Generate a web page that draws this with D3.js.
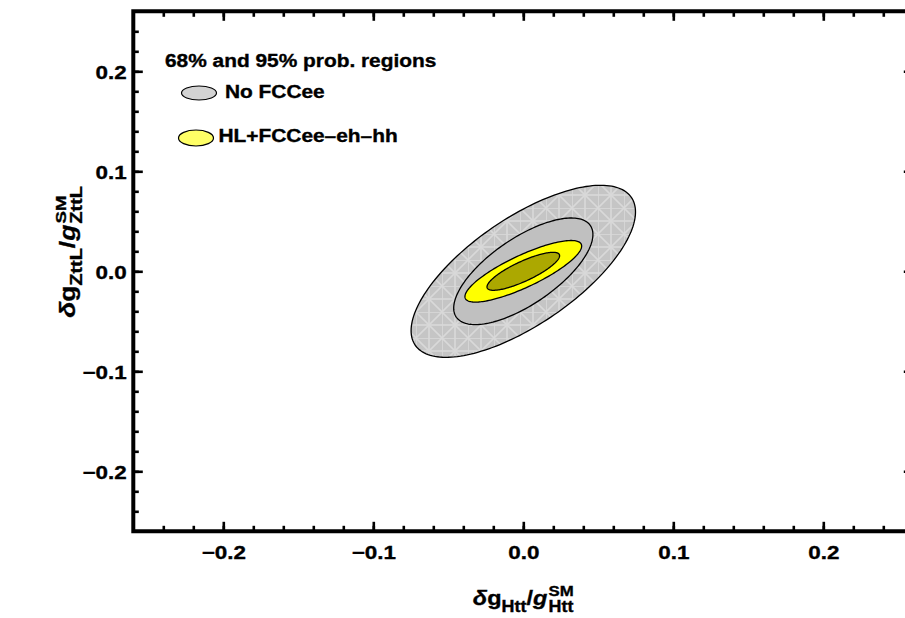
<!DOCTYPE html>
<html><head><meta charset="utf-8">
<script src="https://cdn.jsdelivr.net/npm/d3@7"></script>
<style>
html,body{margin:0;padding:0;background:#fff;overflow:hidden;width:905px;height:618px}
svg{display:block;overflow:hidden}
text{font-family:"Liberation Sans",Arial,sans-serif;font-weight:bold;fill:#000;stroke:#000;stroke-width:0.35px}
</style>
</head><body>
<svg id="c" width="905" height="618" viewBox="0 0 905 618"></svg>
<script>
// ---------- data ----------
const xMajor = [-0.2, -0.1, 0, 0.1, 0.2];
const yMajor = [-0.2, -0.1, 0, 0.1, 0.2];
const minorTicks = [-0.24,-0.22,-0.2,-0.18,-0.16,-0.14,-0.12,-0.1,-0.08,-0.06,-0.04,-0.02,0,
                    0.02,0.04,0.06,0.08,0.1,0.12,0.14,0.16,0.18,0.2,0.22,0.24];
const xTickLabels = ["\u22120.2", "\u22120.1", "0.0", "0.1", "0.2"];
const yTickLabels = ["\u22120.2", "\u22120.1", "0.0", "0.1", "0.2"];

// probability regions (ellipses): centre, half-extent in x and y, correlation
const regionNames = ["No FCCee 95%", "No FCCee 68%", "HL+FCCee-eh-hh 95%", "HL+FCCee-eh-hh 68%"];
const regionCx  = [0, 0, 0, 0];
const regionCy  = [0, 0, 0, 0];
const regionSx  = [0.0748, 0.0464, 0.0389, 0.0242];
const regionSy  = [0.0860, 0.0533, 0.0308, 0.0190];
const regionRho = [0.69, 0.69, 0.82, 0.82];
const regionFill = ["url(#mesh)", "#c0c0c0", "#ffff00", "#aca800"];

const legendTitle = "68% and 95% prob. regions";
const legendLabels = ["No FCCee", "HL+FCCee\u2013eh\u2013hh"];
const legendFill = ["#d3d3d3", "#ffff66"];

// ---------- setup ----------
const svg = d3.select("#c");
const SX = 1.18; // horizontal stretch of the original font rendering
const x = d3.scaleLinear().domain([-0.26, 0.26]).range([133.3, 913.3]);
const y = d3.scaleLinear().domain([-0.26, 0.26]).range([531.3, 11.3]);

const defs = svg.append("defs");
const pat = defs.append("pattern").attr("id", "mesh").attr("patternUnits", "userSpaceOnUse")
  .attr("width", 26).attr("height", 26);
pat.append("rect").attr("width", 26).attr("height", 26).attr("fill", "#c5c5c5");
[[0,0,26,0],[0,13,26,13],[0,0,0,26],[13,0,13,26],[0,0,26,26],[26,0,0,26]].forEach(l => {
  pat.append("line").attr("x1", l[0]).attr("y1", l[1]).attr("x2", l[2]).attr("y2", l[3])
    .attr("stroke", "#d9d9d9").attr("stroke-width", 1.6);
});
defs.append("clipPath").attr("id", "page").append("rect")
  .attr("x", 0).attr("y", 0).attr("width", 905).attr("height", 618);

const root = svg.append("g").attr("clip-path", "url(#page)");

// ---------- regions ----------
const angles = d3.range(0, 361, 2).map(a => a * Math.PI / 180);
const line = d3.line().curve(d3.curveLinearClosed);
regionNames.forEach((name, i) => {
  const r = regionRho[i], q = Math.sqrt(1 - r * r);
  const pts = angles.map(t => [
    x(regionCx[i] + regionSx[i] * Math.cos(t)),
    y(regionCy[i] + regionSy[i] * (r * Math.cos(t) + q * Math.sin(t)))
  ]);
  root.append("path").attr("d", line(pts)).attr("fill", regionFill[i])
    .attr("stroke", "#000").attr("stroke-width", 1.3).attr("data-name", name);
});

// ---------- axes / frame ----------
function ticks(axisFn, scale, vals, len, tr) {
  root.append("g").attr("transform", tr)
    .call(axisFn(scale).tickValues(vals).tickSize(-len).tickFormat(""))
    .call(g => g.select(".domain").remove())
    .call(g => g.selectAll("text").remove())
    .call(g => g.selectAll("line").attr("stroke", "#000").attr("stroke-width", 2.6));
}
ticks(d3.axisBottom, x, minorTicks, 5.5, `translate(0,${y(-0.26)})`);
ticks(d3.axisBottom, x, xMajor, 9.5, `translate(0,${y(-0.26)})`);
ticks(d3.axisTop, x, minorTicks, 5.5, `translate(0,${y(0.26)})`);
ticks(d3.axisTop, x, xMajor, 9.5, `translate(0,${y(0.26)})`);
ticks(d3.axisLeft, y, minorTicks, 5.5, `translate(${x(-0.26)},0)`);
ticks(d3.axisLeft, y, yMajor, 9.5, `translate(${x(-0.26)},0)`);
ticks(d3.axisRight, y, yMajor, 9.5, `translate(${x(0.26)},0)`);

// frame: left, top, bottom edges (right edge lies outside the picture)
root.append("path")
  .attr("d", `M${x(0.26) + 2},${y(0.26)} H${x(-0.26)} V${y(-0.26)} H${x(0.26) + 2}`)
  .attr("fill", "none").attr("stroke", "#000").attr("stroke-width", 4)
  .attr("stroke-linecap", "square");

root.append("g").attr("transform", `translate(0,${y(-0.26)})`)
  .call(d3.axisBottom(x).tickValues(xMajor).tickSize(0).tickPadding(14.5)
    .tickFormat((d, i) => xTickLabels[i]))
  .call(g => g.select(".domain").remove())
  .call(g => g.selectAll("text").attr("font-size", 19).attr("font-family", null)
    .attr("transform", `scale(${SX},1)`));

root.append("g").attr("transform", `translate(${x(-0.26)},0)`)
  .call(d3.axisLeft(y).tickValues(yMajor).tickSize(0).tickPadding(5.6)
    .tickFormat((d, i) => yTickLabels[i]))
  .call(g => g.select(".domain").remove())
  .call(g => g.selectAll("text").attr("font-size", 19).attr("font-family", null)
    .attr("dy", "0.38em").attr("transform", `scale(${SX},1)`));

// ---------- rich axis labels ----------
function richLabel(parts) {
  const g = root.append("g");
  let cx = 0;
  parts.forEach(p => {
    if (p.stack) {
      let w = 0;
      p.stack.forEach(s => {
        const t = g.append("text").attr("x", cx).attr("y", s.dy).attr("font-size", s.size)
          .attr("font-style", s.italic ? "italic" : "normal").text(s.t);
        w = Math.max(w, t.node().getComputedTextLength());
      });
      cx += w;
    } else {
      const t = g.append("text").attr("x", cx).attr("y", p.dy || 0).attr("font-size", p.size)
        .attr("font-style", p.italic ? "italic" : "normal").text(p.t);
      cx += t.node().getComputedTextLength() + (p.gap || 0);
    }
  });
  return { g, w: cx };
}
const LS = 1.12;
const xl = richLabel([
  { t: "\u03B4", size: 21, italic: true },
  { t: "g", size: 21 },
  { t: "Htt", size: 16, dy: 6.7 },
  { t: "/", size: 21 },
  { t: "g", size: 21, italic: true, gap: 1 },
  { stack: [{ t: "SM", size: 15, dy: -8.6 }, { t: "Htt", size: 16, dy: 7.2 }] }
]);
xl.g.attr("transform", `translate(${x(0) - xl.w * LS / 2},605) scale(${LS},1)`);

const LSY = 1.2;
const yl = richLabel([
  { t: "\u03B4", size: 22, italic: true },
  { t: "g", size: 22 },
  { t: "ZttL", size: 16.5, dy: 6.9 },
  { t: "/", size: 22 },
  { t: "g", size: 22, italic: true, gap: 1 },
  { stack: [{ t: "SM", size: 15.5, dy: -8.8 }, { t: "ZttL", size: 16.5, dy: 7.4 }] }
]);
yl.g.attr("transform", `translate(75,${252 + yl.w * LSY / 2}) rotate(-90) scale(${LSY},1)`);

// ---------- legend ----------
function stretchedText(tx, ty, str, size) {
  root.append("g").attr("transform", `translate(${tx},${ty}) scale(${SX},1)`)
    .append("text").attr("font-size", size).text(str);
}
stretchedText(165, 66.7, legendTitle, 17.7);
const legPos = [[199, 93, 17.5, 7], [196, 138, 17.5, 8]];
const legText = [[225, 97.5], [218.5, 142]];
legendLabels.forEach((lab, i) => {
  root.append("ellipse").attr("cx", legPos[i][0]).attr("cy", legPos[i][1])
    .attr("rx", legPos[i][2]).attr("ry", legPos[i][3])
    .attr("fill", legendFill[i]).attr("stroke", "#000").attr("stroke-width", 1.2);
  stretchedText(legText[i][0], legText[i][1], lab, 17.7);
});
</script>
</body></html>
